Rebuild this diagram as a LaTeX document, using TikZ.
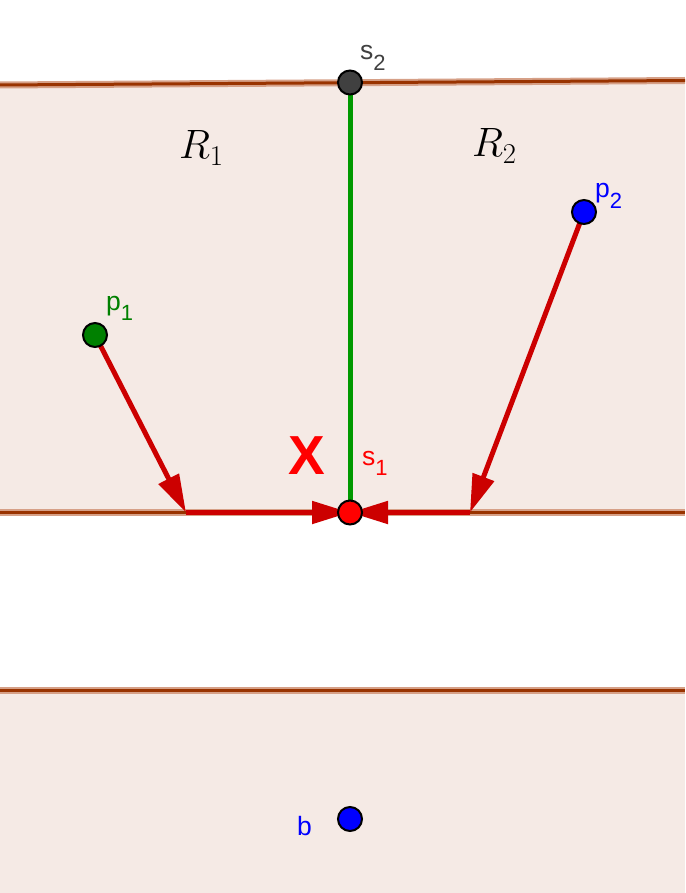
\RequirePackage{fix-cm}
\documentclass[tikz,border=0pt]{standalone}
\usepackage[no-math]{fontspec}
\newfontfamily\lab{Liberation Sans}
\usetikzlibrary{arrows.meta}
\definecolor{regfill}{RGB}{245,234,229}
\definecolor{linecore}{RGB}{153,51,0}
\definecolor{linehalo}{RGB}{214,160,135}
\definecolor{arrred}{RGB}{204,0,0}
\definecolor{seggreen}{RGB}{0,153,0}
\definecolor{ptgreen}{RGB}{0,128,0}
\definecolor{ptgray}{RGB}{64,64,64}
\definecolor{ptblue}{RGB}{0,0,255}
\definecolor{ptred}{RGB}{255,0,0}
\tikzset{
  halo/.style={linehalo, line width=7pt},
  core/.style={linecore, line width=3pt},
  vec/.style={arrred, line width=5pt, -{Triangle[length=38pt,width=22pt]}},
  pt/.style={circle, draw=black, line width=2pt, minimum size=24pt, inner sep=0pt},
  lbl/.style={anchor=base west, inner sep=0pt, font=\lab\fontsize{26.5}{26.5}\selectfont},
  rlbl/.style={anchor=base west, inner sep=0pt, font=\fontsize{41}{41}\selectfont},
}
\newcommand{\sbs}[1]{\raisebox{-10.5pt}{\fontsize{22}{22}\selectfont #1}}
\begin{document}
\begin{tikzpicture}[x=1pt,y=-1pt]
\useasboundingbox (0,0) rectangle (685,893);
% regions
\fill[regfill] (0,85) -- (685,80.5) -- (685,512.5) -- (0,512.5) -- cycle;
\fill[regfill] (0,690.5) -- (685,690.5) -- (685,893) -- (0,893) -- cycle;
% lines
\coordinate (l1a) at (0,85);
\coordinate (l1b) at (685,80.5);
\coordinate (l2a) at (0,512.5);
\coordinate (l2b) at (685,512.5);
\coordinate (l3a) at (0,690.5);
\coordinate (l3b) at (685,690.5);
\foreach \a/\b in {l1a/l1b,l2a/l2b,l3a/l3b}{
  \draw[halo] (\a) -- (\b);
  \draw[core] (\a) -- (\b);
}
% points (positions)
\coordinate (s2c) at (350,82.5);
\coordinate (s1c) at (350,512.5);
\coordinate (p1c) at (95,335);
\coordinate (p2c) at (584,212);
\coordinate (bc) at (350,819);
\coordinate (a1) at (186,512.5);
\coordinate (a2) at (470,512.5);
% green segment
\draw[seggreen, line width=5pt] (s2c) -- (s1c);
% vectors
\draw[vec] (p1c) -- (a1);
\draw[vec] (a1) -- (s1c);
\draw[vec] (p2c) -- (a2);
\draw[vec] (a2) -- (s1c);
% points
\node[pt, fill=ptgray] (s2) at (s2c) {};
\node[pt, fill=ptred] (s1) at (s1c) {};
\node[pt, fill=ptgreen] (p1) at (p1c) {};
\node[pt, fill=ptblue] (p2) at (p2c) {};
\node[pt, fill=ptblue] (b) at (bc) {};
% labels
\node[lbl, text=ptgray] (ls2) at (360,60) {s\sbs{2}};
\node[lbl, text=ptred] (ls1) at (362,465) {s\sbs{1}};
\node[lbl, text=ptgreen] (lp1) at (106,310) {p\sbs{1}};
\node[lbl, text=ptblue] (lp2) at (595,198) {p\sbs{2}};
\node[lbl, text=ptblue] (lb) at (297,835) {b};
\node[anchor=base west, inner sep=0pt, text=ptred, font=\lab\bfseries\fontsize{55}{55}\selectfont] (X) at (288,474) {X};
\node[rlbl] (R1) at (179,159) {$R_1$};
\node[rlbl] (R2) at (472,157) {$R_2$};
\end{tikzpicture}
\end{document}
